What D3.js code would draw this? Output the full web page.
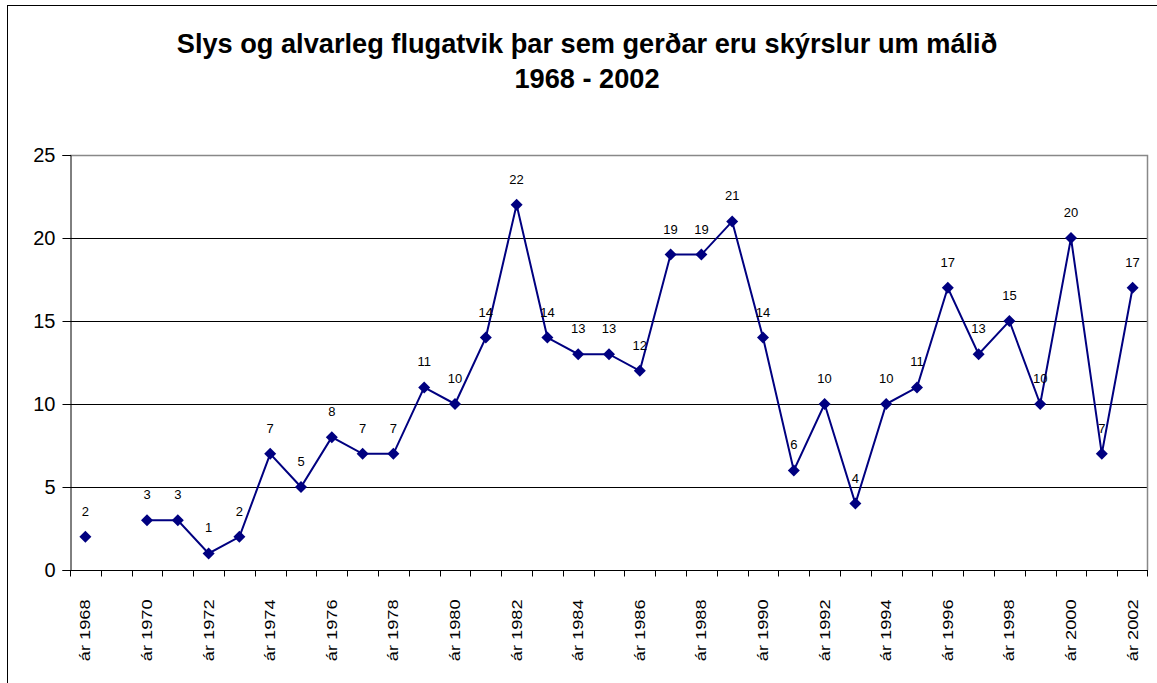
<!DOCTYPE html>
<html><head><meta charset="utf-8">
<script src="https://cdn.jsdelivr.net/npm/d3@7"></script>
<style>body{margin:0;background:#fff;} svg{display:block;}</style>
</head><body>
<svg id="c" width="1157" height="683"></svg>
<script>
const years = d3.range(1968, 2003);
const values = [2, null, 3, 3, 1, 2, 7, 5, 8, 7, 7, 11, 10, 14, 22, 14, 13, 13, 12, 19, 19, 21, 14, 6, 10, 4, 10, 11, 17, 13, 15, 10, 20, 7, 17];
const yTicks = [0, 5, 10, 15, 20, 25];
const titleLines = ["Slys og alvarleg flugatvik þar sem gerðar eru skýrslur um málið", "1968 - 2002"];

const svg = d3.select("#c");
const font = "Arial, 'Liberation Sans', sans-serif";
const m = {left: 70, right: 1148, top: 155, bottom: 570};

svg.append("rect").attr("x", 7.5).attr("y", 5.5).attr("width", 1200).attr("height", 800)
  .attr("fill", "none").attr("stroke", "#000").attr("stroke-width", 1);

svg.append("g").selectAll("text").data(titleLines).join("text")
  .attr("x", 587).attr("y", (d, i) => 53 + i * 35)
  .attr("text-anchor", "middle").attr("font-family", font).attr("font-weight", "bold")
  .attr("font-size", 27.2).text(d => d);

const x = d3.scaleBand().domain(years).range([m.left, m.right]);
const y = d3.scaleLinear().domain([0, 25]).range([m.bottom, m.top]);

// gridlines
svg.append("g").selectAll("line").data(yTicks.filter(t => t > 0 && t < 25)).join("line")
  .attr("x1", m.left).attr("x2", m.right).attr("y1", d => Math.round(y(d)) + 0.5).attr("y2", d => Math.round(y(d)) + 0.5)
  .attr("stroke", "#000").attr("stroke-width", 1);
// plot border
svg.append("path").attr("d", `M${m.left},${m.top + 0.5}H${m.right - 0.5}V${m.bottom}`)
  .attr("fill", "none").attr("stroke", "#888").attr("stroke-width", 1.5);

// y axis
const yAxis = svg.append("g").attr("transform", `translate(${m.left + 0.5},0)`)
  .call(d3.axisLeft(y).tickValues(yTicks).tickSize(8).tickPadding(7));
yAxis.select(".domain").attr("stroke", "#000");
yAxis.selectAll("text").attr("font-family", font).attr("font-size", 20).attr("fill", "#000");

// x axis
const xAxisG = svg.append("g").attr("transform", `translate(0,${m.bottom + 0.5})`);
xAxisG.append("line").attr("x1", m.left).attr("x2", m.right).attr("stroke", "#000");
xAxisG.selectAll("line.t").data(years.concat([2003])).join("line").attr("class", "t")
  .attr("x1", d => d === 2003 ? m.right - 0.5 : Math.round(x(d)) + 0.5)
  .attr("x2", d => d === 2003 ? m.right - 0.5 : Math.round(x(d)) + 0.5)
  .attr("y1", 0).attr("y2", 6).attr("stroke", "#000");
xAxisG.selectAll("text").data(years.filter(d => (d - 1968) % 2 === 0)).join("text")
  .attr("transform", d => `translate(${x(d) + x.bandwidth() / 2 + 5},${29}) rotate(-90) scale(1.3,1)`)
  .attr("text-anchor", "end").attr("font-family", font).attr("font-size", 14).text(d => "ár " + d);

// line
const pts = years.map((yr, i) => ({yr, v: values[i]}));
const line = d3.line().defined(d => d.v !== null)
  .x(d => x(d.yr) + x.bandwidth() / 2).y(d => y(d.v));
svg.append("path").datum(pts).attr("d", line).attr("fill", "none")
  .attr("stroke", "#000080").attr("stroke-width", 2);

const valid = pts.filter(d => d.v !== null);
svg.append("g").selectAll("path").data(valid).join("path")
  .attr("transform", d => `translate(${x(d.yr) + x.bandwidth() / 2},${y(d.v)})`)
  .attr("d", "M0,-6L6,0L0,6L-6,0Z").attr("fill", "#000080");

svg.append("g").selectAll("text").data(valid).join("text")
  .attr("x", d => x(d.yr) + x.bandwidth() / 2).attr("y", d => y(d.v) - 21)
  .attr("text-anchor", "middle").attr("font-family", font).attr("font-size", 13).text(d => d.v);
</script>
</body></html>
